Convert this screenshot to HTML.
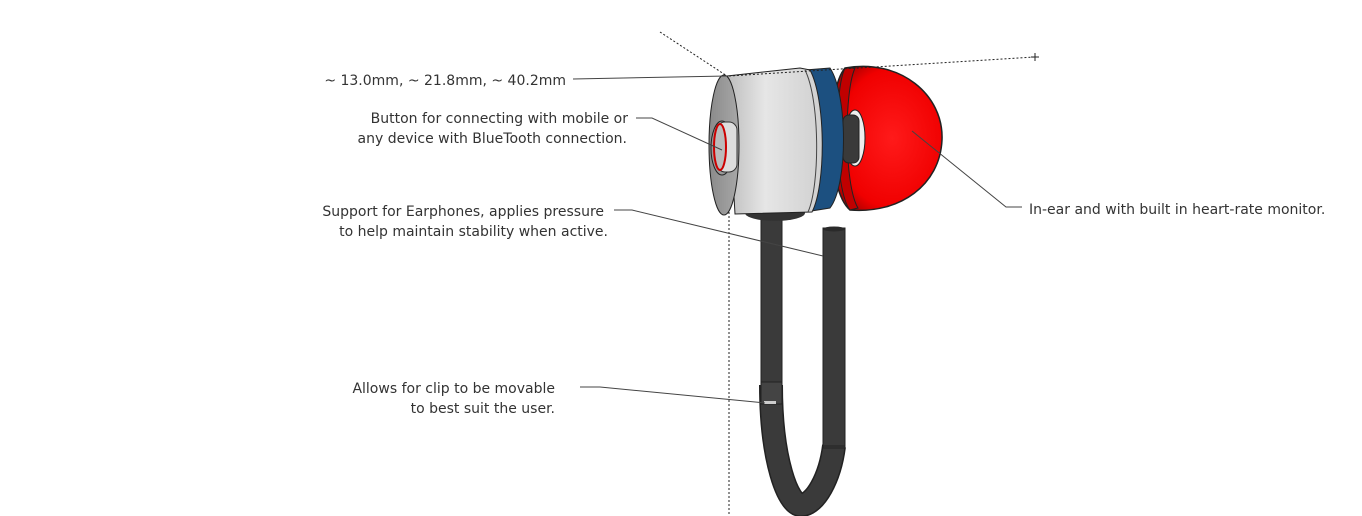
<!DOCTYPE html>
<html><head><meta charset="utf-8"><style>
html,body{margin:0;padding:0;background:#fff;}
svg{display:block;}
text{font-family:"DejaVu Sans","Liberation Sans",sans-serif;font-size:14px;fill:#333;}
</style></head><body>
<svg width="1362" height="516" viewBox="0 0 1362 516" xmlns="http://www.w3.org/2000/svg">
<defs>
<linearGradient id="silver" x1="0" y1="0" x2="1" y2="0">
<stop offset="0" stop-color="#bdbdbd"/><stop offset="0.4" stop-color="#e6e6e6"/><stop offset="1" stop-color="#d0d0d0"/></linearGradient>
<linearGradient id="face" x1="0" y1="0" x2="1" y2="0">
<stop offset="0" stop-color="#8a8a8a"/><stop offset="1" stop-color="#a8a8a8"/></linearGradient>
<radialGradient id="red" cx="0.55" cy="0.5" r="0.6">
<stop offset="0" stop-color="#ff1a1a"/><stop offset="0.8" stop-color="#f00000"/><stop offset="1" stop-color="#b00000"/></radialGradient>
</defs>
<line x1="729" y1="76" x2="729" y2="516" stroke="#222" stroke-dasharray="2,2" stroke-width="1"/>
<line x1="660" y1="32" x2="727" y2="76" stroke="#222" stroke-dasharray="2,2" stroke-width="1"/>
<!-- tubes -->
<path d="M771 385 C771 460 788 505 801 505 C815 505 830 478 834 446" fill="none" stroke="#222" stroke-width="24"/>
<path d="M771 385 C771 460 788 505 801 505 C815 505 830 478 834 446" fill="none" stroke="#3a3a3a" stroke-width="21"/>
<rect x="761" y="214" width="21" height="170" fill="#3a3a3a" stroke="#222"/>
<rect x="761" y="382" width="21" height="22" fill="#444" stroke="#222"/>
<rect x="764" y="401" width="12" height="3" fill="#ccc"/>
<rect x="823" y="228" width="22" height="220" fill="#3a3a3a" stroke="#222"/>
<ellipse cx="834" cy="229" rx="11" ry="2.5" fill="#2a2a2a"/>
<line x1="823" y1="446" x2="845" y2="446" stroke="#222"/>
<ellipse cx="775" cy="213" rx="30" ry="8" fill="#333"/>
<!-- red dome -->
<path d="M845 68 C900 58 944 95 942 140 C940 185 900 214 850 210 C826 190 826 90 845 68 Z" fill="url(#red)" stroke="#222" stroke-width="1.5"/>
<path d="M845 68 C834 90 834 190 850 210 L858 208 C844 185 844 92 855 68 Z" fill="#c00000" stroke="#222"/>
<ellipse cx="855" cy="138" rx="10" ry="28" fill="#eee" stroke="#222"/>
<rect x="843" y="115" width="16" height="48" rx="6" fill="#3a3a3a" stroke="#222"/>
<!-- blue band -->
<path d="M805 70 L830 68 C848 95 848 185 830 208 L805 212 Z" fill="#1c5080" stroke="#222"/>
<!-- silver cylinder -->
<path d="M727 76 L800 68 L810 70 C826 100 826 185 812 212 L735 214 Z" fill="url(#silver)" stroke="#222"/>
<path d="M805 70 C820 100 820 185 808 212" fill="none" stroke="#444"/>
<!-- left face -->
<ellipse cx="724" cy="145" rx="15" ry="70" fill="url(#face)" stroke="#222"/>
<ellipse cx="722" cy="148" rx="11" ry="27" fill="#999" stroke="#222"/>
<rect x="717" y="122" width="20" height="50" rx="8" fill="#ddd" stroke="#333"/>
<ellipse cx="720" cy="147" rx="6" ry="23" fill="#bbb" stroke="#c00" stroke-width="2"/>
<g stroke="#444" stroke-width="1" fill="none">
<line x1="573" y1="79" x2="727" y2="76"/>
<polyline points="636,118 652,118 722,150"/>
<polyline points="614,210 632,210 823,256"/>
<polyline points="580,387 600,387 765,403"/>
<polyline points="1022,207 1006,207 912,131"/>
</g>
<line x1="729" y1="76" x2="1035" y2="57" stroke="#222" stroke-dasharray="2,2"/>
<path d="M1031 57 H1039 M1035 53 V61" stroke="#222"/>
<text x="566" y="85" text-anchor="end">~ 13.0mm, ~ 21.8mm, ~ 40.2mm</text>
<text x="628" y="123" text-anchor="end">Button for connecting with mobile or</text>
<text x="627" y="143" text-anchor="end">any device with BlueTooth connection.</text>
<text x="604" y="216" text-anchor="end">Support for Earphones, applies pressure</text>
<text x="608" y="236" text-anchor="end">to help maintain stability when active.</text>
<text x="555" y="393" text-anchor="end">Allows for clip to be movable</text>
<text x="555" y="413" text-anchor="end">to best suit the user.</text>
<text x="1029" y="214">In-ear and with built in heart-rate monitor.</text>
</svg>
</body></html>
